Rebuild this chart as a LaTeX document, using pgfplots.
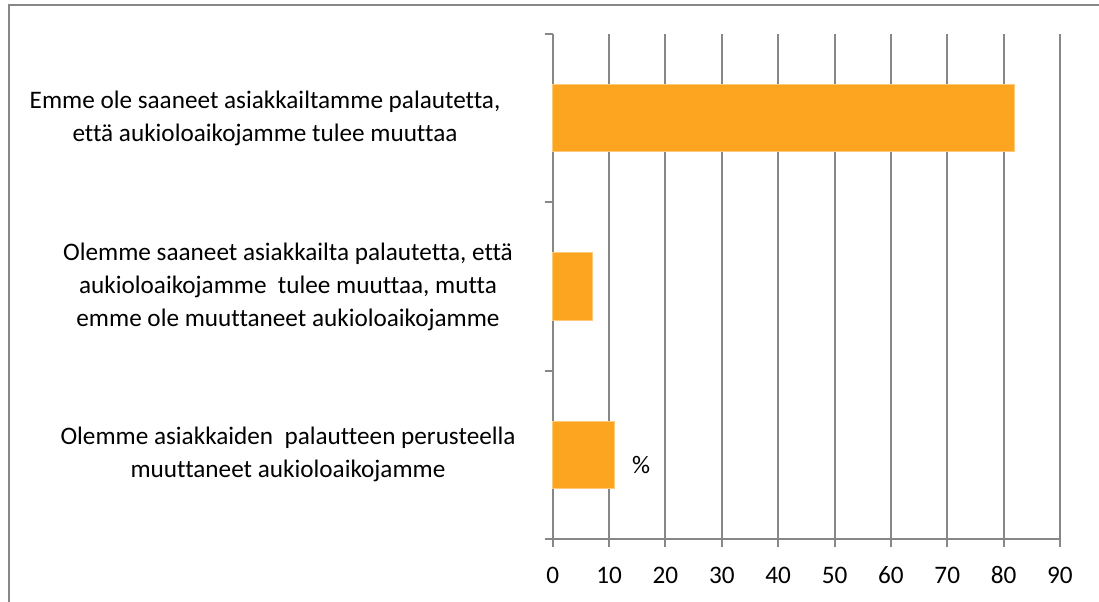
\documentclass[border=0pt]{standalone}
\usepackage{pgfplots}
\pgfplotsset{compat=1.18}
\usepackage{fontspec}
\setmainfont{Carlito}[Ligatures=NoCommon]
\definecolor{barorange}{HTML}{FDA521}
\definecolor{gridgray}{HTML}{878787}
\begin{document}
\fontsize{12.6}{16.5}\selectfont
\begin{tikzpicture}
\useasboundingbox (0,0) rectangle (549.5pt,300.5pt);
% outer chart frame, cut off at right and bottom
\draw[gridgray, line width=1pt] (4.5pt,-5pt) -- (4.5pt,298pt) -- (560pt,298pt);
\begin{axis}[
  at={(276.35pt,31pt)}, anchor=south west,
  width=253.65pt, height=252.5pt, scale only axis,
  xmin=0, xmax=90,
  xtick={0,10,...,90},
  ymin=-0.5, ymax=2.5,
  ytick={-0.5,0.5,1.5,2.5},
  yticklabels={},
  axis lines*=left,
  axis line style={gridgray, line width=1pt},
  tick style={gridgray, line width=1pt},
  tick align=outside,
  major tick length=4pt,
  xmajorgrids=true,
  grid style={gridgray, line width=1pt},
  xticklabel style={yshift=-6pt, text height=8pt, text depth=0pt},
  tick label style={font=\fontsize{12.6}{14}\selectfont},
  /pgf/number format/assume math mode=true,
  clip=false,
  ]
  \addplot[xbar, bar width=0.4, fill=barorange, draw=barorange!60!white, line width=0.5pt]
    coordinates {(82,2) (7,1) (11,0)};
  \node[align=center, font=\fontsize{12.6}{16.5}\selectfont, xshift=-143.85pt] at (axis cs:0,2)
    {Emme ole saaneet asiakkailtamme palautetta,\\että aukioloaikojamme tulee muuttaa};
  \node[align=center, font=\fontsize{12.6}{16.5}\selectfont, xshift=-132.35pt] at (axis cs:0,1)
    {Olemme saaneet asiakkailta palautetta, että\\aukioloaikojamme\ \ tulee muuttaa, mutta\\emme ole muuttaneet aukioloaikojamme};
  \node[align=center, font=\fontsize{12.6}{16.5}\selectfont, xshift=-132.35pt] at (axis cs:0,0)
    {Olemme asiakkaiden\ \ palautteen perusteella\\muuttaneet aukioloaikojamme};
  \node[font=\fontsize{12.6}{14}\selectfont] at (axis cs:15.7,-0.06) {\%};
\end{axis}
\end{tikzpicture}
\end{document}
